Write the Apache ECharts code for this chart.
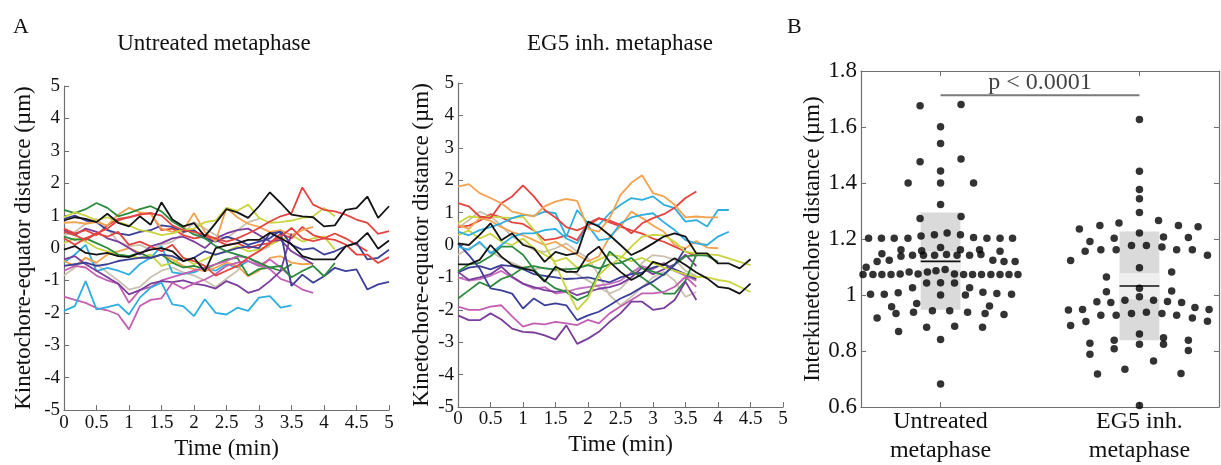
<!DOCTYPE html>
<html>
<head>
<meta charset="utf-8">
<script src="https://cdn.jsdelivr.net/npm/echarts@6.0.0/dist/echarts.min.js"></script>
<style>
html,body{margin:0;padding:0;background:#fff;}
#chart{width:1221px;height:465px;}
</style>
</head>
<body>
<div id="chart"></div>
<script>
// ---------- sampling times (min) ----------
const times = [0, 0.167, 0.333, 0.5, 0.667, 0.833, 1, 1.167, 1.333, 1.5, 1.667, 1.833, 2, 2.167, 2.333, 2.5, 2.667, 2.833, 3, 3.167, 3.333, 3.5, 3.667, 3.833, 4, 4.167, 4.333, 4.5, 4.667, 4.833, 5];

// ---------- A: Untreated metaphase traces (µm) ----------
const u_black1 = [0.85,0.95,0.9,0.8,1.06,0.78,0.67,0.98,0.72,1.41,0.88,0.67,0.77,0.36,0.77,1.2,1.1,0.93,1.29,1.72,1.39,1.03,0.98,0.95,0.67,0.7,1.18,1.23,1.59,0.93,1.29];
const u_black2 = [-0.05,0.06,-0.15,-0.2,-0.15,-0.25,-0.28,-0.15,-0.05,0.0,-0.1,-0.4,-0.3,-0.72,0.0,0.08,0.15,0.25,0.25,0.47,0.3,0.12,-0.25,-0.35,-0.35,-0.35,0.05,0.15,0.47,-0.02,0.23];
const u_red1 = [0.5,0.4,0.25,0.45,0.6,0.85,0.95,1.03,1.08,1.0,0.7,0.55,0.5,0.4,0.3,0.2,0.3,0.45,0.62,0.82,0.98,1.08,1.87,1.34,1.18,1.13,1.03,0.88,0.78,0.44,0.52];
const u_red2 = [0.3,0.1,0.3,0.45,0.35,0.5,0.1,0.2,0.05,-0.1,0.1,-0.3,-0.4,-0.55,-0.85,-0.7,-0.55,-0.3,-0.1,0.15,0.35,0.62,0.3,0.21,0.3,0.25,0.11,-0.2,-0.2,-0.46,-0.28];
const u_red3 = [0.6,0.45,0.55,0.4,0.7,0.9,0.95,1.05,1.08,0.55,0.6,0.4,0.3,0.35,0.25,0.1,0.15,0.0,0.1,0.15,0.45,0.3,0.65,0.4,0.3,0.45,0.3,0.1,-0.1];
const u_green1 = [1.18,1.08,1.2,1.39,1.24,0.98,1.08,1.2,1.29,1.13,0.82,0.62,0.42,0.3,0.06,-0.1,-0.2,-0.3,-0.45,-0.6,-0.55,-0.9,-0.71,-0.55,-0.87,-0.46];
const u_green2 = [0.35,0.25,0.3,0.15,0.0,-0.2,-0.25,-0.15,-0.3,-0.2,-0.45,-0.6,-0.55,-0.65,-0.5,-0.35,-0.3,-0.85,-0.65,-0.6,-0.7,-0.5];
const u_navy1 = [-0.55,-0.5,-0.45,-0.55,-0.5,-0.4,-0.35,-0.3,-0.3,-0.2,-0.25,-0.4,-0.3,-0.1,-0.2,-0.1,0.0,0.05,0.0,0.45,0.5,-1.17,-0.82,-1.07,-0.87,-0.61,-0.71,-0.66,-1.28,-1.12,-1.04];
const u_navy2 = [0.9,1.0,0.85,0.8,0.55,0.45,0.4,0.5,0.55,0.7,0.65,0.5,0.55,0.3,0.2,0.35,0.25,0.1,0.2,0.3,0.55,0.1,-0.05,0.0,-0.2,-0.1,0.05,0.16,-0.35,-0.3,-0.05];
const u_purple1 = [-0.35,-0.25,-0.5,-0.7,-0.9,-1.1,-1.43,-1.3,-1.1,-1.02,-1.05,-1.0,-1.1,-1.15,-1.25,-1.02,-1.15,-1.38,-1.28,-1.02,-0.71,0.45];
const u_purple2 = [0.55,0.4,0.6,0.5,0.3,0.2,0.0,-0.2,0.05,0.15,0.3,0.35,0.2,0.0,0.3,0.45,0.55,0.6,0.4,0.2,0.25,-0.1,-0.3,-0.5];
const u_cyan1 = [-1.94,-1.79,-1.02,-1.89,-1.82,-1.74,-2.05,-1.53,-1.22,-1.07,-1.74,-1.79,-2.1,-1.58,-2.0,-2.05,-1.84,-1.94,-1.53,-1.48,-1.84,-1.77];
const u_cyan2 = [-0.45,-0.2,0.1,-0.71,-0.61,-0.7,-0.82,-0.5,-0.3,0.05,-0.75,-0.8,-0.75,-0.6,-0.7,-0.5,-0.6,-0.4,-0.55,-0.6];
const u_orange1 = [0.78,0.8,0.75,0.8,0.7,1.03,1.24,1.1,1.05,0.6,0.5,0.55,1.08,0.5,0.2,1.24,0.95,0.75,0.65,0.5,0.55,0.4,0.55,0.65];
const u_orange2 = [-0.4,-0.55,-0.3,-0.45,-0.2,-0.1,0.0,-0.15,-0.3,-0.2,-0.35,-0.55,-0.65,-0.71,-0.6,-0.45,-0.55,-0.87,-0.7,-0.3,-0.25,-0.45,-0.5,-0.48];
const u_yellow1 = [0.95,1.1,1.0,0.85,0.95,0.8,0.7,0.55,0.5,0.4,0.45,0.55,0.6,0.8,0.85,1.24,1.15,1.34,0.93,0.78,0.8,0.85,0.93,0.98,1.24,0.98];
const u_yellow2 = [0.15,0.3,0.2,0.0,-0.1,-0.2,-0.25,-0.3,-0.2,-0.55,-0.45,-0.3,-0.5,-0.35,-0.2,-0.1,0.05,-0.1,-0.05,0.1,0.25,0.4,0.2,0.3,0.36,-0.05];
const u_magenta1 = [-1.5,-1.6,-1.69,-1.85,-1.92,-2.05,-2.51,-1.79,-1.6,-1.55,-1.07,-1.25,-1.1,-0.97,-0.8,-0.55,-0.45,-0.4,-0.55,-0.35,-0.6,-0.9];
const u_magenta2 = [-0.7,-0.55,-0.6,-0.85,-1.0,-1.1,-1.69,-1.3,-1.2,-1.0,-0.9,-0.8,-0.7,-0.6,-0.5,-0.4,-0.25,-0.3,-0.5,-0.65,-0.95,-1.07,-1.28,-1.38];
const u_beige1 = [-0.85,-0.6,-0.3,-0.5,-0.75,-1.0,-1.28,-1.2,-0.9,-0.7,-0.6,-0.75,-0.85,-1.0,-1.2,-0.95,-0.7,-0.3,-0.1,0.05];
const u_beige2 = [0.4,0.5,0.75,0.9,0.6,0.2,0.05,0.1,-0.05,0.1,0.2,0.45,0.8,0.6,0.4,0.3,0.55,0.8,0.9];

// ---------- A: EG5 inh. metaphase traces (µm) ----------
const e_orange1 = [1.8,1.88,1.6,1.45,1.29,1.03,0.95,0.88,1.19,1.34,1.42,1.36,0.5,0.41,0.83,1.55,1.92,2.15,1.6,1.5,1.24,0.85,0.88,0.85,0.85];
const e_orange2 = [0.62,0.5,0.83,0.75,0.55,0.4,0.3,0.15,0.0,0.1,-0.1,-0.3,-0.5,-0.35,0.26,0.57,1.03,0.83,0.6,0.41,0.0,-0.1,0.12,-0.08,-0.1];
const e_red1 = [1.29,1.19,0.88,0.83,1.29,1.5,1.84,1.5,1.08,0.85,0.55,0.45,0.6,0.82,0.75,0.62,0.36,0.67,0.83,0.95,1.15,1.45,1.65];
const e_red2 = [0.55,0.6,0.75,0.95,0.85,0.7,0.65,0.45,0.15,0.2,0.3,0.15,0.67,0.83,0.7,0.57,0.45,0.35,0.2,0.1,-0.05,-0.2,-0.35];
const e_cyan1 = [0.41,0.3,0.46,0.55,0.67,0.83,0.93,0.9,1.03,0.98,0.26,1.08,0.67,0.62,0.98,1.24,1.45,1.39,1.5,1.24,1.14,0.72,0.77,0.57,1.08,1.08];
const e_cyan2 = [-0.05,-0.15,0.1,-0.26,0.0,0.25,0.36,0.36,0.46,0.5,0.2,0.05,0.6,0.15,0.2,0.67,0.85,0.93,0.98,0.7,0.46,0.15,0.05,0.0,0.26,0.41];
const e_black1 = [0.05,0.0,0.31,0.67,0.15,0.36,0.0,-0.1,-0.52,-0.21,-0.31,-0.25,0.72,0.57,0.3,0.0,-0.31,-0.15,0.05,0.26,0.36,0.26,-0.26,-0.26,-0.57,-0.57,-0.72,-0.44];
const e_black2 = [-0.6,-0.6,-0.46,0.0,-0.36,-0.62,-0.72,-0.8,-1.13,-0.67,-0.83,-0.83,-0.3,-0.05,-0.52,-0.83,-1.08,-0.9,-0.52,-0.62,-0.41,-0.62,-0.85,-1.03,-1.29,-1.34,-1.5,-1.19];
const e_yellow1 = [0.67,0.88,0.85,0.88,0.85,0.83,0.88,0.46,0.0,-0.6,-1.34,-2.0,-1.65,-0.93,-0.62,-0.41,-0.05,0.26,0.31,0.3,0.1,-0.21,-0.26,-0.28,-0.31,-0.41,-0.52,-0.62];
const e_yellow2 = [0.3,0.45,0.2,0.35,0.1,0.0,0.2,-0.1,-0.3,-0.5,-0.4,-0.7,-0.6,-0.45,-0.3,-0.35,-0.5,-0.4,-0.55,-0.7,-0.8,-0.9,-0.98,-1.0,-1.08,-1.13,-1.29,-1.45];
const e_green1 = [-1.65,-1.4,-1.15,-1.29,-1.05,-0.93,-0.7,-0.65,-0.72,-0.75,-0.75,-0.72,-0.62,-0.72,-0.6,-0.55,-0.4,-0.72,-0.82,-0.93,-0.6,-0.35,-0.31,-0.33,-0.52];
const e_green2 = [-0.82,-0.6,-0.55,-0.35,-0.05,-0.05,-0.3,-0.75,-1.1,-1.34,-1.45,-1.7,-1.55,-0.87,-0.2,-0.5,-0.8,-1.0,-1.25,-1.5,-1.5,-1.1,-0.3];
const e_navy1 = [0.05,-0.31,-0.72,-1.34,-1.4,-1.5,-1.96,-1.65,-1.86,-1.8,-1.86,-2.32,-2.17,-2.06,-1.86,-1.65,-1.5,-1.3,-1.13,-0.9,-0.62,-0.1];
const e_navy2 = [-0.85,-0.7,-0.65,-0.75,-0.62,-0.65,-0.75,-0.9,-0.95,-1.0,-1.05,-1.03,-1.0,-1.08,-1.15,-1.0,-0.9,-0.85,-0.7,-0.6,-0.75,-0.9,-1.05];
const e_purple1 = [-2.17,-2.32,-2.32,-2.11,-2.3,-2.58,-2.68,-2.7,-2.79,-2.92,-2.48,-3.05,-2.89,-2.68,-2.37,-2.11,-1.75,-1.75,-2.0,-1.95,-1.7,-1.13,-1.7];
const e_purple2 = [-0.83,-1.08,-1.0,-0.9,-0.67,-0.98,-1.19,-1.3,-1.39,-1.45,-1.4,-1.55,-1.45,-1.35,-1.3,-1.2,-1.0,-0.7,-0.9,-0.75,-0.6,-0.3,-0.65];
const e_pink1 = [-1.9,-2.0,-2.0,-1.9,-1.86,-2.2,-2.52,-2.42,-2.45,-2.37,-2.42,-2.47,-2.31,-2.42,-2.11,-1.9,-1.7,-1.49,-1.49,-1.45,-1.29,-0.98,-1.29];
const e_pink2 = [-1.0,-1.1,-1.05,-0.95,-0.8,-1.0,-1.2,-1.35,-1.3,-1.5,-1.45,-1.35,-1.3,-1.25,-1.2,-1.1,-0.85,-0.65,-0.75,-0.55,-0.8,-0.95,-1.1];
const e_beige1 = [0.52,0.77,1.03,0.88,0.6,0.26,0.05,-0.15,-0.21,-0.1,0.05,-0.2,-0.41,-0.93,-1.55,-1.86,-1.6,-1.3,-1.0,-0.83,-1.1,-1.6,-1.45];
const e_beige2 = [-0.3,-0.1,0.05,-0.2,-0.4,-0.55,-0.7,-0.75,-0.7,-0.8,-0.72,-0.9,-1.1,-1.3,-1.5,-1.35,-1.0,-0.55,-0.31,-0.35,-0.45,-0.8,-0.95];

// ---------- B: interkinetochore distance (µm) ----------
const groupLabels = ['Untreated\nmetaphase', 'EG5 inh.\nmetaphase'];
const groupPos = [1, 2];
const untreatedX = [0.897,1.103,1.0,1.0,0.897,1.103,1.0,0.837,1.0,1.166,1.0,0.897,1.103,
  0.638,0.703,0.767,0.836,0.902,0.969,1.033,1.1,1.166,1.233,1.299,1.362,
  1.0,0.801,0.801,0.705,0.859,0.905,0.914,0.970,1.030,1.083,1.1,1.146,1.196,1.203,1.299,0.681,0.742,1.263,1.319,1.375,0.626,
  0.610,0.660,0.705,0.751,0.797,0.842,0.887,0.934,0.977,1.023,1.070,1.116,1.161,1.206,1.253,1.299,1.344,1.389,
  1.0,0.930,1.070,1.0,0.648,0.717,0.787,0.859,1.125,1.146,1.213,1.283,1.357,
  0.754,0.776,0.880,0.864,0.959,1.046,1.136,1.246,1.224,1.319,0.681,0.930,1.071,1.211,0.789,1.0,1.0];
const untreatedY = [1.676,1.680,1.601,1.541,1.476,1.486,1.443,1.400,1.400,1.400,1.323,1.273,1.280,
  1.203,1.203,1.203,1.203,1.211,1.215,1.221,1.215,1.205,1.203,1.203,1.203,
  1.170,1.162,1.138,1.147,1.142,1.158,1.142,1.142,1.145,1.142,1.162,1.142,1.162,1.145,1.156,1.120,1.124,1.124,1.120,1.120,1.099,
  1.073,1.073,1.073,1.073,1.075,1.082,1.075,1.082,1.087,1.091,1.075,1.073,1.073,1.073,1.073,1.073,1.073,1.073,
  1.044,1.043,1.043,1.000,1.003,1.003,1.008,1.026,1.000,1.026,1.010,1.005,1.003,
  0.958,0.934,0.970,0.938,0.944,0.944,0.938,0.961,0.934,0.930,0.918,0.885,0.888,0.885,0.870,0.841,0.682];
const eg5X = [2.0,2.0,2.0,2.0,2.0,1.698,1.801,1.897,2.096,2.196,2.295,2.0,1.751,1.873,2.121,2.246,
  1.727,1.806,1.883,1.960,2.035,2.113,2.187,2.266,2.342,1.654,2.0,2.162,1.834,1.834,2.0,2.0,2.162,
  1.786,1.856,1.927,2.071,2.141,2.212,2.279,1.643,1.714,1.806,1.883,1.960,2.035,2.113,2.187,2.266,2.350,2.342,
  1.654,1.731,2.0,1.873,1.751,2.0,2.121,2.121,2.246,1.873,1.751,2.246,2.071,1.927,1.789,2.209,2.0];
const eg5Y = [1.627,1.442,1.377,1.344,1.295,1.236,1.248,1.257,1.266,1.248,1.244,1.221,1.191,1.203,1.207,1.205,
  1.156,1.162,1.162,1.177,1.177,1.171,1.162,1.162,1.142,1.123,1.097,1.082,1.064,1.012,1.024,0.994,1.014,
  0.976,0.973,0.981,0.981,0.977,0.973,0.955,0.946,0.948,0.928,0.928,0.934,0.938,0.934,0.928,0.918,0.948,0.906,
  0.891,0.905,0.861,0.838,0.828,0.824,0.847,0.824,0.838,0.808,0.788,0.802,0.764,0.735,0.718,0.720,0.605];
const groupMean = [1.12, 1.032];
const groupSdLow = [0.947, 0.838];
const groupSdHigh = [1.295, 1.227];
const groupCiLow = [1.09, 0.985];
const groupCiHigh = [1.155, 1.079];
const pBarY = 1.713;
const pText = 'p < 0.0001';

// ---------- build ----------
const FONT = "'Liberation Serif','Times New Roman',serif";
const AX = '#707070';
const C = {black:'#141414', red:'#e4443f', green:'#2b8a3e', navy:'#3b3f98', purple:'#7b3d9b', cyan:'#2eaedf',
  orange:'#f3a24f', yellow:'#c9d43f', magenta:'#c35fb3', pink:'#c66fbf', beige:'#cbc1b0'};

const untreatedTraces = [
  [u_beige1,C.beige],[u_beige2,C.beige],[u_cyan2,C.cyan],[u_orange2,C.orange],[u_yellow2,C.yellow],
  [u_green2,C.green],[u_purple2,C.purple],[u_red3,C.red],[u_navy2,C.navy],[u_orange1,C.orange],
  [u_magenta2,C.magenta],[u_purple1,C.purple],[u_magenta1,C.magenta],[u_cyan1,C.cyan],[u_navy1,C.navy],
  [u_green1,C.green],[u_yellow1,C.yellow],[u_red2,C.red],[u_red1,C.red],[u_black2,C.black],[u_black1,C.black]
];
const eg5Traces = [
  [e_beige2,C.beige],[e_beige1,C.beige],[e_pink2,C.pink],[e_navy2,C.navy],[e_purple2,C.purple],
  [e_red2,C.red],[e_orange2,C.orange],[e_yellow2,C.yellow],[e_green1,C.green],[e_green2,C.green],
  [e_pink1,C.magenta],[e_purple1,C.purple],[e_navy1,C.navy],[e_yellow1,C.yellow],[e_cyan2,C.cyan],
  [e_cyan1,C.cyan],[e_red1,C.red],[e_orange1,C.orange],[e_black2,C.black],[e_black1,C.black]
];

function traceSeries(list, idx) {
  return list.map(([arr, color]) => ({
    type: 'line', xAxisIndex: idx, yAxisIndex: idx, showSymbol: false, symbol: 'none',
    data: arr.map((v, i) => [times[i], v]),
    lineStyle: {color: color, width: 1.8}, itemStyle: {color: color}, silent: true
  }));
}

const tickLabel = {color: '#111', fontFamily: FONT, fontSize: 19};
const nameStyle = {color: '#111', fontFamily: FONT, fontSize: 23};

function timeAxis(gi, gap) {
  return {gridIndex: gi, type: 'value', min: 0, max: 5, interval: 0.5,
    axisLine: {onZero: false, lineStyle: {color: AX, width: 1.2}},
    axisTick: {inside: true, length: 5, lineStyle: {color: AX}},
    splitLine: {show: false},
    axisLabel: Object.assign({margin: 3}, tickLabel),
    name: 'Time (min)', nameLocation: 'middle', nameGap: gap, nameTextStyle: nameStyle};
}
function distAxis(gi, gap) {
  return {gridIndex: gi, type: 'value', min: -5, max: 5, interval: 1,
    axisLine: {onZero: false, lineStyle: {color: AX, width: 1.2}},
    axisTick: {inside: true, length: 5, lineStyle: {color: AX}},
    splitLine: {show: false},
    axisLabel: Object.assign({margin: 4}, tickLabel),
    name: 'Kinetochore-equator distance (µm)', nameLocation: 'middle', nameGap: gap, nameTextStyle: nameStyle};
}

const boxData = groupPos.map((x, i) => [x, groupSdLow[i], groupSdHigh[i]]);
const ciData = groupPos.map((x, i) => [x, groupCiLow[i], groupCiHigh[i]]);
const meanData = groupPos.map((x, i) => [x, groupMean[i]]);
const HALF = 0.1;

function rectRender(fill) {
  return function (params, api) {
    const x = api.value(0);
    const p1 = api.coord([x - HALF, api.value(2)]);
    const p2 = api.coord([x + HALF, api.value(1)]);
    return {type: 'rect', shape: {x: p1[0], y: p1[1], width: p2[0] - p1[0], height: p2[1] - p1[1]}, style: {fill: fill}};
  };
}

const option = {
  animation: false,
  backgroundColor: '#fff',
  title: [
    {text: 'A', left: 13, top: 16, padding: 0, textStyle: {fontFamily: FONT, fontSize: 22, fontWeight: 'normal', color: '#111'}},
    {text: 'Untreated metaphase', left: 214, top: 32, padding: 0, textAlign: 'center', textStyle: {fontFamily: FONT, fontSize: 23, fontWeight: 'normal', color: '#111'}},
    {text: 'EG5 inh. metaphase', left: 620, top: 32, padding: 0, textAlign: 'center', textStyle: {fontFamily: FONT, fontSize: 23, fontWeight: 'normal', color: '#111'}},
    {text: 'B', left: 787, top: 16, padding: 0, textStyle: {fontFamily: FONT, fontSize: 22, fontWeight: 'normal', color: '#111'}}
  ],
  grid: [
    {left: 64, top: 86, width: 325, height: 325},
    {left: 458, top: 83, width: 325, height: 324},
    {left: 861, top: 71, width: 358, height: 340}
  ],
  xAxis: [
    timeAxis(0, 26),
    timeAxis(1, 26),
    {gridIndex: 2, type: 'value', min: 0.6, max: 2.4, position: 'bottom',
      axisLine: {onZero: false, lineStyle: {color: AX, width: 1.2}},
      axisTick: {inside: true, length: 5, customValues: groupPos, lineStyle: {color: AX}},
      splitLine: {show: false},
      axisLabel: {customValues: groupPos, margin: 0, lineHeight: 29, color: '#111', fontFamily: FONT, fontSize: 24,
        formatter: v => groupLabels[groupPos.indexOf(Math.round(v))] || ''}},
    {gridIndex: 2, type: 'value', min: 0.6, max: 2.4, position: 'top',
      axisLine: {onZero: false, lineStyle: {color: AX, width: 1.2}},
      axisTick: {inside: true, length: 5, customValues: groupPos, lineStyle: {color: AX}},
      axisLabel: {show: false}, splitLine: {show: false}}
  ],
  yAxis: [
    distAxis(0, 29),
    distAxis(1, 25),
    {gridIndex: 2, type: 'value', min: 0.6, max: 1.8, interval: 0.2, position: 'left',
      axisLine: {onZero: false, lineStyle: {color: AX, width: 1.2}},
      axisTick: {inside: true, length: 5, lineStyle: {color: AX}},
      splitLine: {show: false},
      axisLabel: {margin: 4, color: '#111', fontFamily: FONT, fontSize: 23,
        formatter: v => (Math.abs(v - 1) < 1e-9 ? '1' : v.toFixed(1))},
      name: 'Interkinetochore distance (µm)', nameLocation: 'middle', nameGap: 37, nameTextStyle: nameStyle},
    {gridIndex: 2, type: 'value', min: 0.6, max: 1.8, interval: 0.2, position: 'right',
      axisLine: {onZero: false, lineStyle: {color: AX, width: 1.2}},
      axisTick: {inside: true, length: 5, lineStyle: {color: AX}},
      axisLabel: {show: false}, splitLine: {show: false}}
  ],
  series: [].concat(
    traceSeries(untreatedTraces, 0),
    traceSeries(eg5Traces, 1),
    [
      {type: 'custom', xAxisIndex: 2, yAxisIndex: 2, renderItem: rectRender('#dadada'), data: boxData, z: 1, silent: true},
      {type: 'custom', xAxisIndex: 2, yAxisIndex: 2, renderItem: rectRender('#eeeeee'), data: ciData, z: 2, silent: true},
      {type: 'custom', xAxisIndex: 2, yAxisIndex: 2, z: 3, silent: true, data: meanData,
        renderItem: function (params, api) {
          const a = api.coord([api.value(0) - HALF, api.value(1)]);
          const b = api.coord([api.value(0) + HALF, api.value(1)]);
          return {type: 'line', shape: {x1: a[0], y1: a[1], x2: b[0], y2: b[1]}, style: {stroke: '#111', lineWidth: 1.6}};
        }},
      {type: 'scatter', xAxisIndex: 2, yAxisIndex: 2, symbolSize: 7.5, clip: false, z: 4,
        itemStyle: {color: '#000'}, data: untreatedX.map((x, i) => [x, untreatedY[i]])},
      {type: 'scatter', xAxisIndex: 2, yAxisIndex: 2, symbolSize: 7.5, clip: false, z: 4,
        itemStyle: {color: '#000'}, data: eg5X.map((x, i) => [x, eg5Y[i]])},
      {type: 'line', xAxisIndex: 2, yAxisIndex: 2, symbol: 'none', z: 4, silent: true,
        lineStyle: {color: '#7a7a7a', width: 2}, data: [[groupPos[0], pBarY], [groupPos[1], pBarY]]},
      {type: 'scatter', xAxisIndex: 2, yAxisIndex: 2, symbolSize: 0, z: 5, silent: true,
        data: [[(groupPos[0] + groupPos[1]) / 2, pBarY]],
        label: {show: true, position: 'top', distance: 1, formatter: pText, color: '#111', fontFamily: FONT, fontSize: 24}}
    ]
  )
};

const chart = echarts.init(document.getElementById('chart'), null, {renderer: 'canvas'});
chart.setOption(option);
</script>
</body>
</html>
